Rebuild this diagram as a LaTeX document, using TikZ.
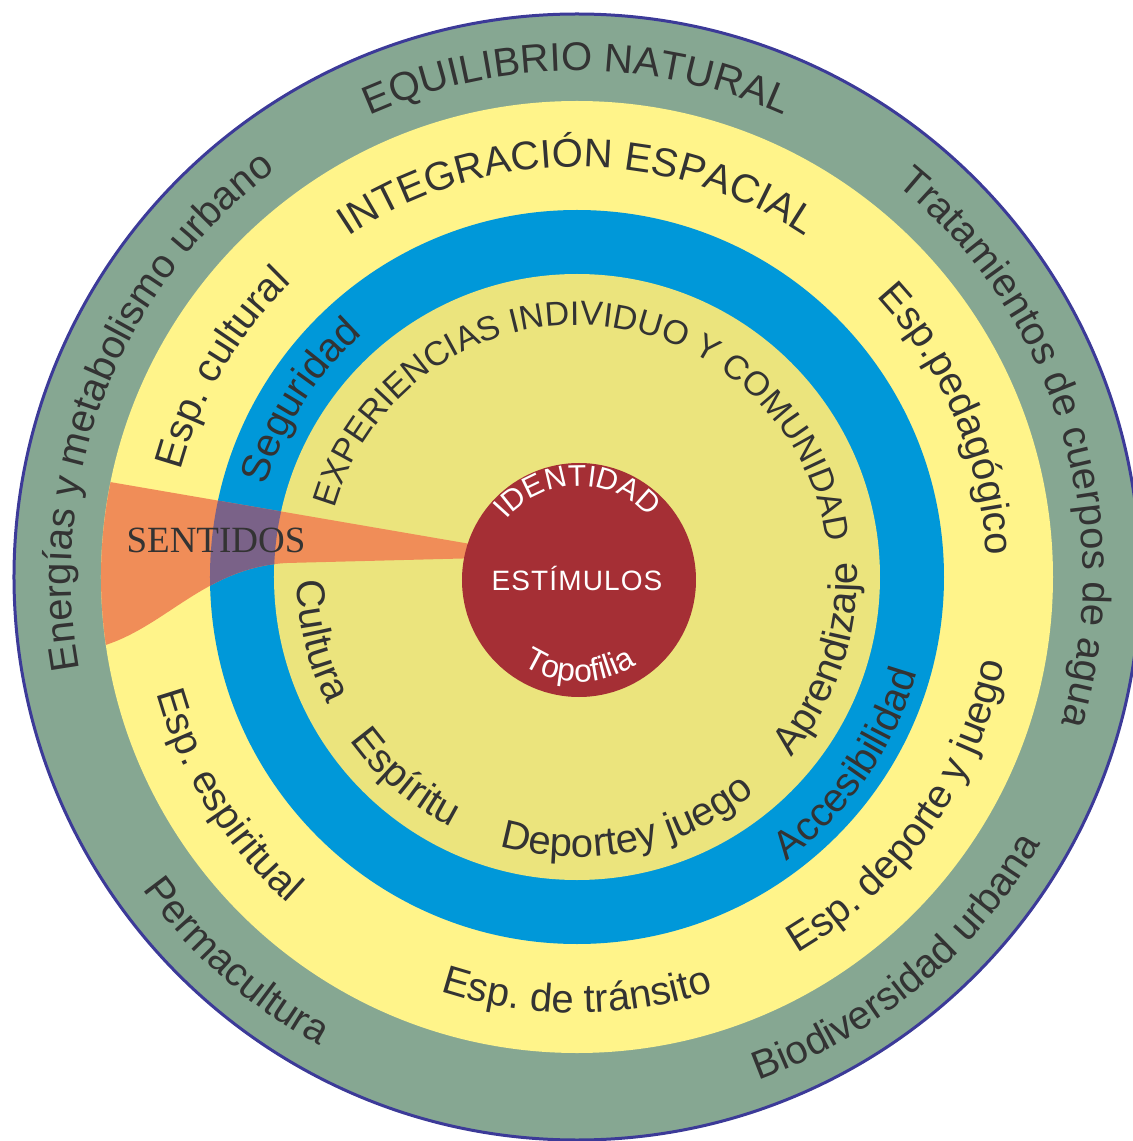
\documentclass[tikz,border=0pt]{standalone}
\usepackage{fontspec}
\setmainfont{Liberation Sans}
\newfontfamily\serifx{Liberation Serif}
\newfontfamily\spacedsans[LetterSpace=4]{Liberation Sans}
\usetikzlibrary{decorations.text}
\definecolor{ringgreen}{RGB}{134,167,146}
\definecolor{ringline}{RGB}{60,58,152}
\definecolor{ringyellow}{RGB}{255,244,138}
\definecolor{ringblue}{RGB}{0,152,217}
\definecolor{ringkhaki}{RGB}{235,228,125}
\definecolor{corered}{RGB}{165,47,53}
\definecolor{senseorange}{RGB}{240,141,88}
\definecolor{sensepurple}{RGB}{122,98,136}
\definecolor{txt}{RGB}{51,51,51}
% #1 baseline radius, #2 middle angle, #3 font size (pt), #4 colour, #5 text
\newcommand{\ringcw}[5]{%
  \path[decorate,decoration={text along path,text align=center,
    text={|\fontsize{#3}{#3}\selectfont\color{#4}|#5}}]
    ({#2+100}:#1) arc[start angle={#2+100},delta angle=-200,radius=#1];}
\newcommand{\ringccw}[5]{%
  \path[decorate,decoration={text along path,text align=center,
    text={|\fontsize{#3}{#3}\selectfont\color{#4}|#5}}]
    ({#2-100}:#1) arc[start angle={#2-100},delta angle=200,radius=#1];}
\begin{document}
\begin{tikzpicture}[x=0.5pt,y=0.5pt]
\useasboundingbox (-577,-564) rectangle (556,577);
% rings
\fill[ringgreen] (0,0) circle[radius=563];
\draw[ringline,line width=1.5pt] (0,0) circle[radius=563];
\fill[ringyellow] (0,0) circle[radius=476];
\fill[ringblue] (0,0) circle[radius=367];
\fill[ringkhaki] (0,0) circle[radius=303];
% sentidos wedge
\def\sensepath{(-95,31) -- (168.5:476) arc[start angle=168.5,end angle=188.2,radius=476]
  .. controls (-410,-48) and (-370,10) .. (-290,14) -- (-95,19) -- cycle}
\fill[senseorange] \sensepath;
\begin{scope}
  \clip \sensepath;
  \fill[sensepurple,even odd rule] (0,0) circle[radius=367] (0,0) circle[radius=303];
\end{scope}
% core
\fill[corered] (2,-3) circle[radius=117];
\node[anchor=base,inner sep=0pt,text=txt,font=\serifx\fontsize{18.5}{18.5}\selectfont] (sentidos) at (-361,25) {SENTIDOS};
\node[anchor=base,inner sep=0pt,text=white,font=\spacedsans\fontsize{14}{14}\selectfont] (estimulos) at (0,-13) {ESTÍMULOS};
% green ring
\ringcw{506}{90}{20}{txt}{EQUILIBRIO NATURAL}
\ringcw{506}{158.5}{20}{txt}{Energías y metabolismo urbano}
\ringcw{506}{17}{20}{txt}{Tratamientos de cuerpos de agua}
\ringccw{535}{228.5}{20}{txt}{Permacultura}
\ringccw{535}{310}{20}{txt}{Biodiversidad urbana}
% yellow ring
\ringcw{410}{90}{20}{txt}{INTEGRACIÓN ESPACIAL}
\ringcw{410}{149.5}{20}{txt}{Esp. cultural}
\ringcw{410}{23}{20}{txt}{Esp.pedagógico}
\ringccw{436}{212}{20}{txt}{Esp. espiritual}
\ringccw{436}{270}{20}{txt}{Esp. de tránsito}
\ringccw{436}{324.5}{20}{txt}{Esp. deporte y juego}
% blue ring
\ringcw{324}{147.5}{20}{txt}{Seguridad}
\ringccw{353}{325.4}{20}{txt}{Accesibilidad}
% khaki ring
\ringcw{252}{86}{17}{txt}{EXPERIENCIAS INDIVIDUO Y COMUNIDAD}
\ringccw{280}{194}{20}{txt}{Cultura}
\ringccw{280}{229.5}{20}{txt}{Espíritu}
\ringccw{280}{281.7}{20}{txt}{Deportey juego}
\ringccw{280}{341.5}{20}{txt}{Aprendizaje}
% core texts
\begin{scope}[shift={(2,-3)}]
\ringcw{94}{91}{15}{white}{IDENTIDAD}
\ringccw{102}{270.5}{16}{white}{Topofilia}
\end{scope}
\end{tikzpicture}
\end{document}
